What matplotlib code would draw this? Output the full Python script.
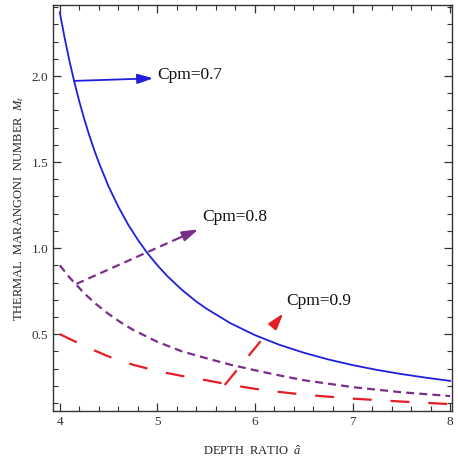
import numpy as np
import matplotlib
matplotlib.use("Agg")
import matplotlib.pyplot as plt
from matplotlib.ticker import MultipleLocator, FixedLocator

# Werte
ratio_blue = [4.0, 4.05, 4.1, 4.15, 4.2, 4.25, 4.3, 4.35, 4.4, 4.5, 4.6, 4.7, 4.8, 4.9, 5.0,
              5.1, 5.25, 5.4, 5.5, 5.75, 6.0, 6.25, 6.5, 6.75, 7.0, 7.25, 7.5, 7.75, 8.0]
marangoni_07 = [2.37, 2.22, 2.085, 1.963, 1.852, 1.751, 1.659, 1.574, 1.497, 1.358, 1.24,
                1.137, 1.048, 0.969, 0.90, 0.838, 0.758, 0.689, 0.649, 0.563, 0.494, 0.438,
                0.392, 0.353, 0.32, 0.292, 0.268, 0.247, 0.228]

ratio = [4.0, 4.1, 4.2, 4.25, 4.375, 4.5, 4.625, 4.75, 5.0, 5.25, 5.5, 5.75, 6.0, 6.25,
         6.5, 7.0, 7.5, 8.0]
marangoni_08 = [0.90, 0.829, 0.768, 0.737, 0.673, 0.617, 0.568, 0.525, 0.455, 0.40, 0.36,
                0.322, 0.29, 0.26, 0.232, 0.192, 0.162, 0.14]
marangoni_09 = [0.50, 0.472, 0.446, 0.43, 0.40, 0.37, 0.345, 0.322, 0.285, 0.257, 0.232,
                0.205, 0.182, 0.164, 0.148, 0.125, 0.108, 0.093]

labels = ["Cpm=0.7", "Cpm=0.8", "Cpm=0.9"]
# Pfeile: Start (auf der Kurve), Spitze, Textposition
arrow_start = [(4.15, 1.972), (4.17, 0.792), (5.69, 0.204)]
arrow_tip = [(4.957, 1.987), (5.42, 1.109), (6.29, 0.62)]
label_pos = [(4.995, 2.006), (5.464, 1.182), (6.318, 0.692)]

colors = ["#1f1fdd", "#7b2d8b", "#e41e26"]
dash_styles = ["-", (0, (3.6, 2.3)), (0, (8.5, 8.5))]

plt.rcParams["mathtext.fontset"] = "custom"
plt.rcParams["mathtext.rm"] = "Liberation Serif"
plt.rcParams["mathtext.it"] = "Liberation Serif:italic"

fig = plt.figure(figsize=(4.58, 4.58), dpi=100)
ax = fig.add_axes([0.1157, 0.1026, 0.8713, 0.8864])

ax.plot(ratio_blue, marangoni_07, color=colors[0], lw=1.3, linestyle=dash_styles[0])
ax.plot(ratio, marangoni_08, color=colors[1], lw=1.6, linestyle=dash_styles[1])
ax.plot(ratio, marangoni_09, color=colors[2], lw=1.6, linestyle=dash_styles[2])

for i in range(3):
    (x0, y0), (x1, y1) = arrow_start[i], arrow_tip[i]
    lw = 1.3 if i == 0 else 1.6
    # Schaft bis kurz vor die Spitze
    f = 0.85
    xm, ym = x0 + f * (x1 - x0), y0 + f * (y1 - y0)
    ax.plot([x0, xm], [y0, ym], color=colors[i], lw=lw, linestyle=dash_styles[i])
    ax.annotate("", xy=(x1, y1), xytext=(xm, ym),
                arrowprops=dict(arrowstyle="-|>,head_length=0.95,head_width=0.3",
                                mutation_scale=10, color=colors[i], lw=lw,
                                shrinkA=0, shrinkB=0))
    ax.text(label_pos[i][0], label_pos[i][1], labels[i], fontsize=12.5,
            family="Liberation Serif", color="#111111", ha="left", va="center")

ax.set_xlim(3.93, 8.02)
ax.set_ylim(0.053, 2.413)

ax.xaxis.set_major_locator(FixedLocator([4, 5, 6, 7, 8]))
ax.xaxis.set_minor_locator(MultipleLocator(0.2))
ax.yaxis.set_major_locator(FixedLocator([0.5, 1.0, 1.5, 2.0]))
ax.yaxis.set_minor_locator(MultipleLocator(0.1))
ax.set_xticklabels(["4", "5", "6", "7", "8"])
ax.set_yticklabels(["0.5", "1.0", "1.5", "2.0"])

ax.tick_params(which="both", direction="in", top=True, right=True, color="#333333",
               labelsize=9.5, labelcolor="#333333")
ax.tick_params(which="major", length=6, width=0.9)
ax.tick_params(which="minor", length=3.5, width=0.8)
for lbl in ax.get_xticklabels() + ax.get_yticklabels():
    lbl.set_family("Liberation Serif")

for s in ax.spines.values():
    s.set_color("#333333")
    s.set_linewidth(1.0)

ax.set_xlabel(r"DEPTH  RATIO  $\hat{a}$", fontsize=9, family="Liberation Serif",
              color="#222222", labelpad=12)
ax.set_ylabel(r"THERMAL  MARANGONI  NUMBER  $M_t$", fontsize=9, family="Liberation Serif",
              color="#222222", labelpad=4)

fig.savefig("out.png", dpi=100)
